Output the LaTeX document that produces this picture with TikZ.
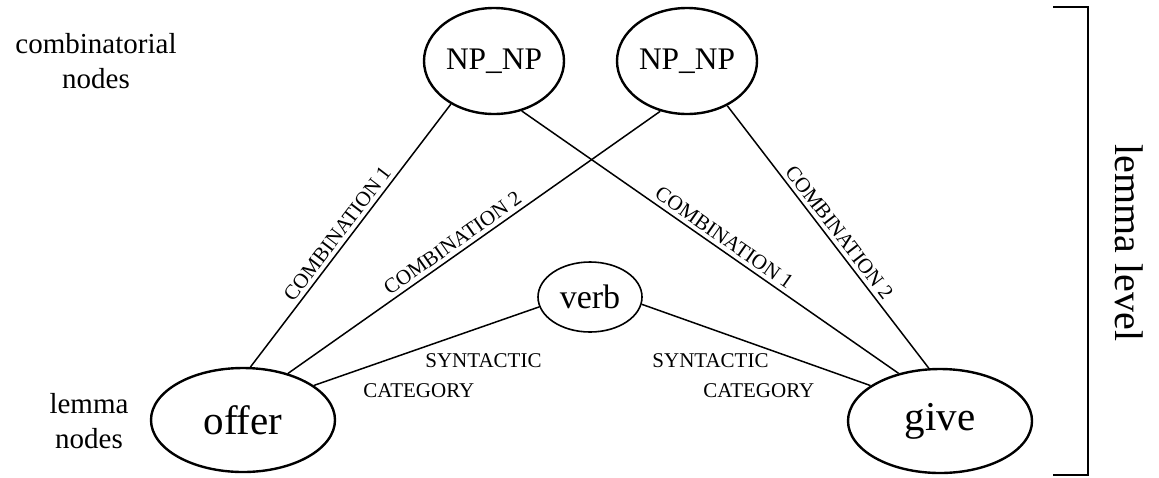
\documentclass[tikz,border=0pt]{standalone}
\usepackage{fontspec}
\setmainfont{Liberation Serif}
\usetikzlibrary{shapes.geometric}
\tikzset{
  lemmanode/.style = {draw, ellipse, line width=1.2pt, inner sep=0pt,
                      minimum width=92pt, minimum height=52pt,
                      font=\fontsize{20.5}{24}\selectfont},
  combnode/.style  = {draw, ellipse, line width=1.2pt, inner sep=0pt,
                      minimum width=70pt, minimum height=53pt,
                      font=\fontsize{15.7}{18}\selectfont},
  catnode/.style   = {draw, ellipse, line width=0.8pt, inner sep=0pt,
                      minimum width=52pt, minimum height=35pt,
                      font=\fontsize{17}{20}\selectfont},
  link/.style      = {line width=0.75pt},
  combo/.style     = {sloped, above, inner sep=2pt,
                      font=\fontsize{10.5}{12}\selectfont},
  synlabel/.style  = {align=left, inner sep=0pt, anchor=north west,
                      font=\fontsize{10.5}{15}\selectfont},
  sidelabel/.style = {align=center, inner sep=0pt,
                      font=\fontsize{14.5}{17.5}\selectfont},
}
\begin{document}
\begin{tikzpicture}[x=0.5pt, y=-0.5pt]
        \useasboundingbox (0,0) rectangle (1159,477);
        % nodes
        \node[combnode]  (np1)   at (494, 61) {NP\_NP};
        \node[combnode]  (np2)   at (687, 61) {NP\_NP};
        \node[catnode]   (verb)  at (590,297) {verb};
        \node[lemmanode] (offer) at (243,420) {offer};
        \node[lemmanode] (give)  at (940,421) {give};
        % side texts
        \node[sidelabel] (combtxt)  at ( 96, 61) {combinatorial\\nodes};
        \node[sidelabel] (lemmatxt) at ( 89,421) {lemma\\nodes};
        % connections
        \draw[link] (offer.82)  -- node[combo, pos=.48] (c1a) {COMBINATION 1} (np1.225);
        \draw[link] (offer.46)  -- node[combo, pos=.46] (c2a) {COMBINATION 2} (np2.242);
        \draw[link] (np1.299)   -- node[combo, pos=.52] (c1b) {COMBINATION 1} (give.131);
        \draw[link] (np2.312)   -- node[combo, pos=.51] (c2b) {COMBINATION 2} (give.102);
        \draw[link] (verb.191)  -- (offer.26);
        \draw[link] (verb.352)  -- (give.153);
        \node[synlabel] (synleft)  at (363,353) {\hspace*{31pt}SYNTACTIC\\CATEGORY};
        \node[synlabel] (synright) at (652,353) {SYNTACTIC\\\hspace*{25.5pt}CATEGORY};
        % level bracket
        \coordinate (brtl) at (1053,  7);
        \coordinate (brtr) at (1088,  7);
        \coordinate (brbr) at (1088,475);
        \coordinate (brbl) at (1053,475);
        \draw[line width=0.7pt] (brtl) -- (brtr) -- (brbr) -- (brbl);
        \node[rotate=-90, inner sep=0pt, font=\fontsize{20}{24}\selectfont] (level) at (1129,243) {lemma level};
      \end{tikzpicture}
\end{document}
